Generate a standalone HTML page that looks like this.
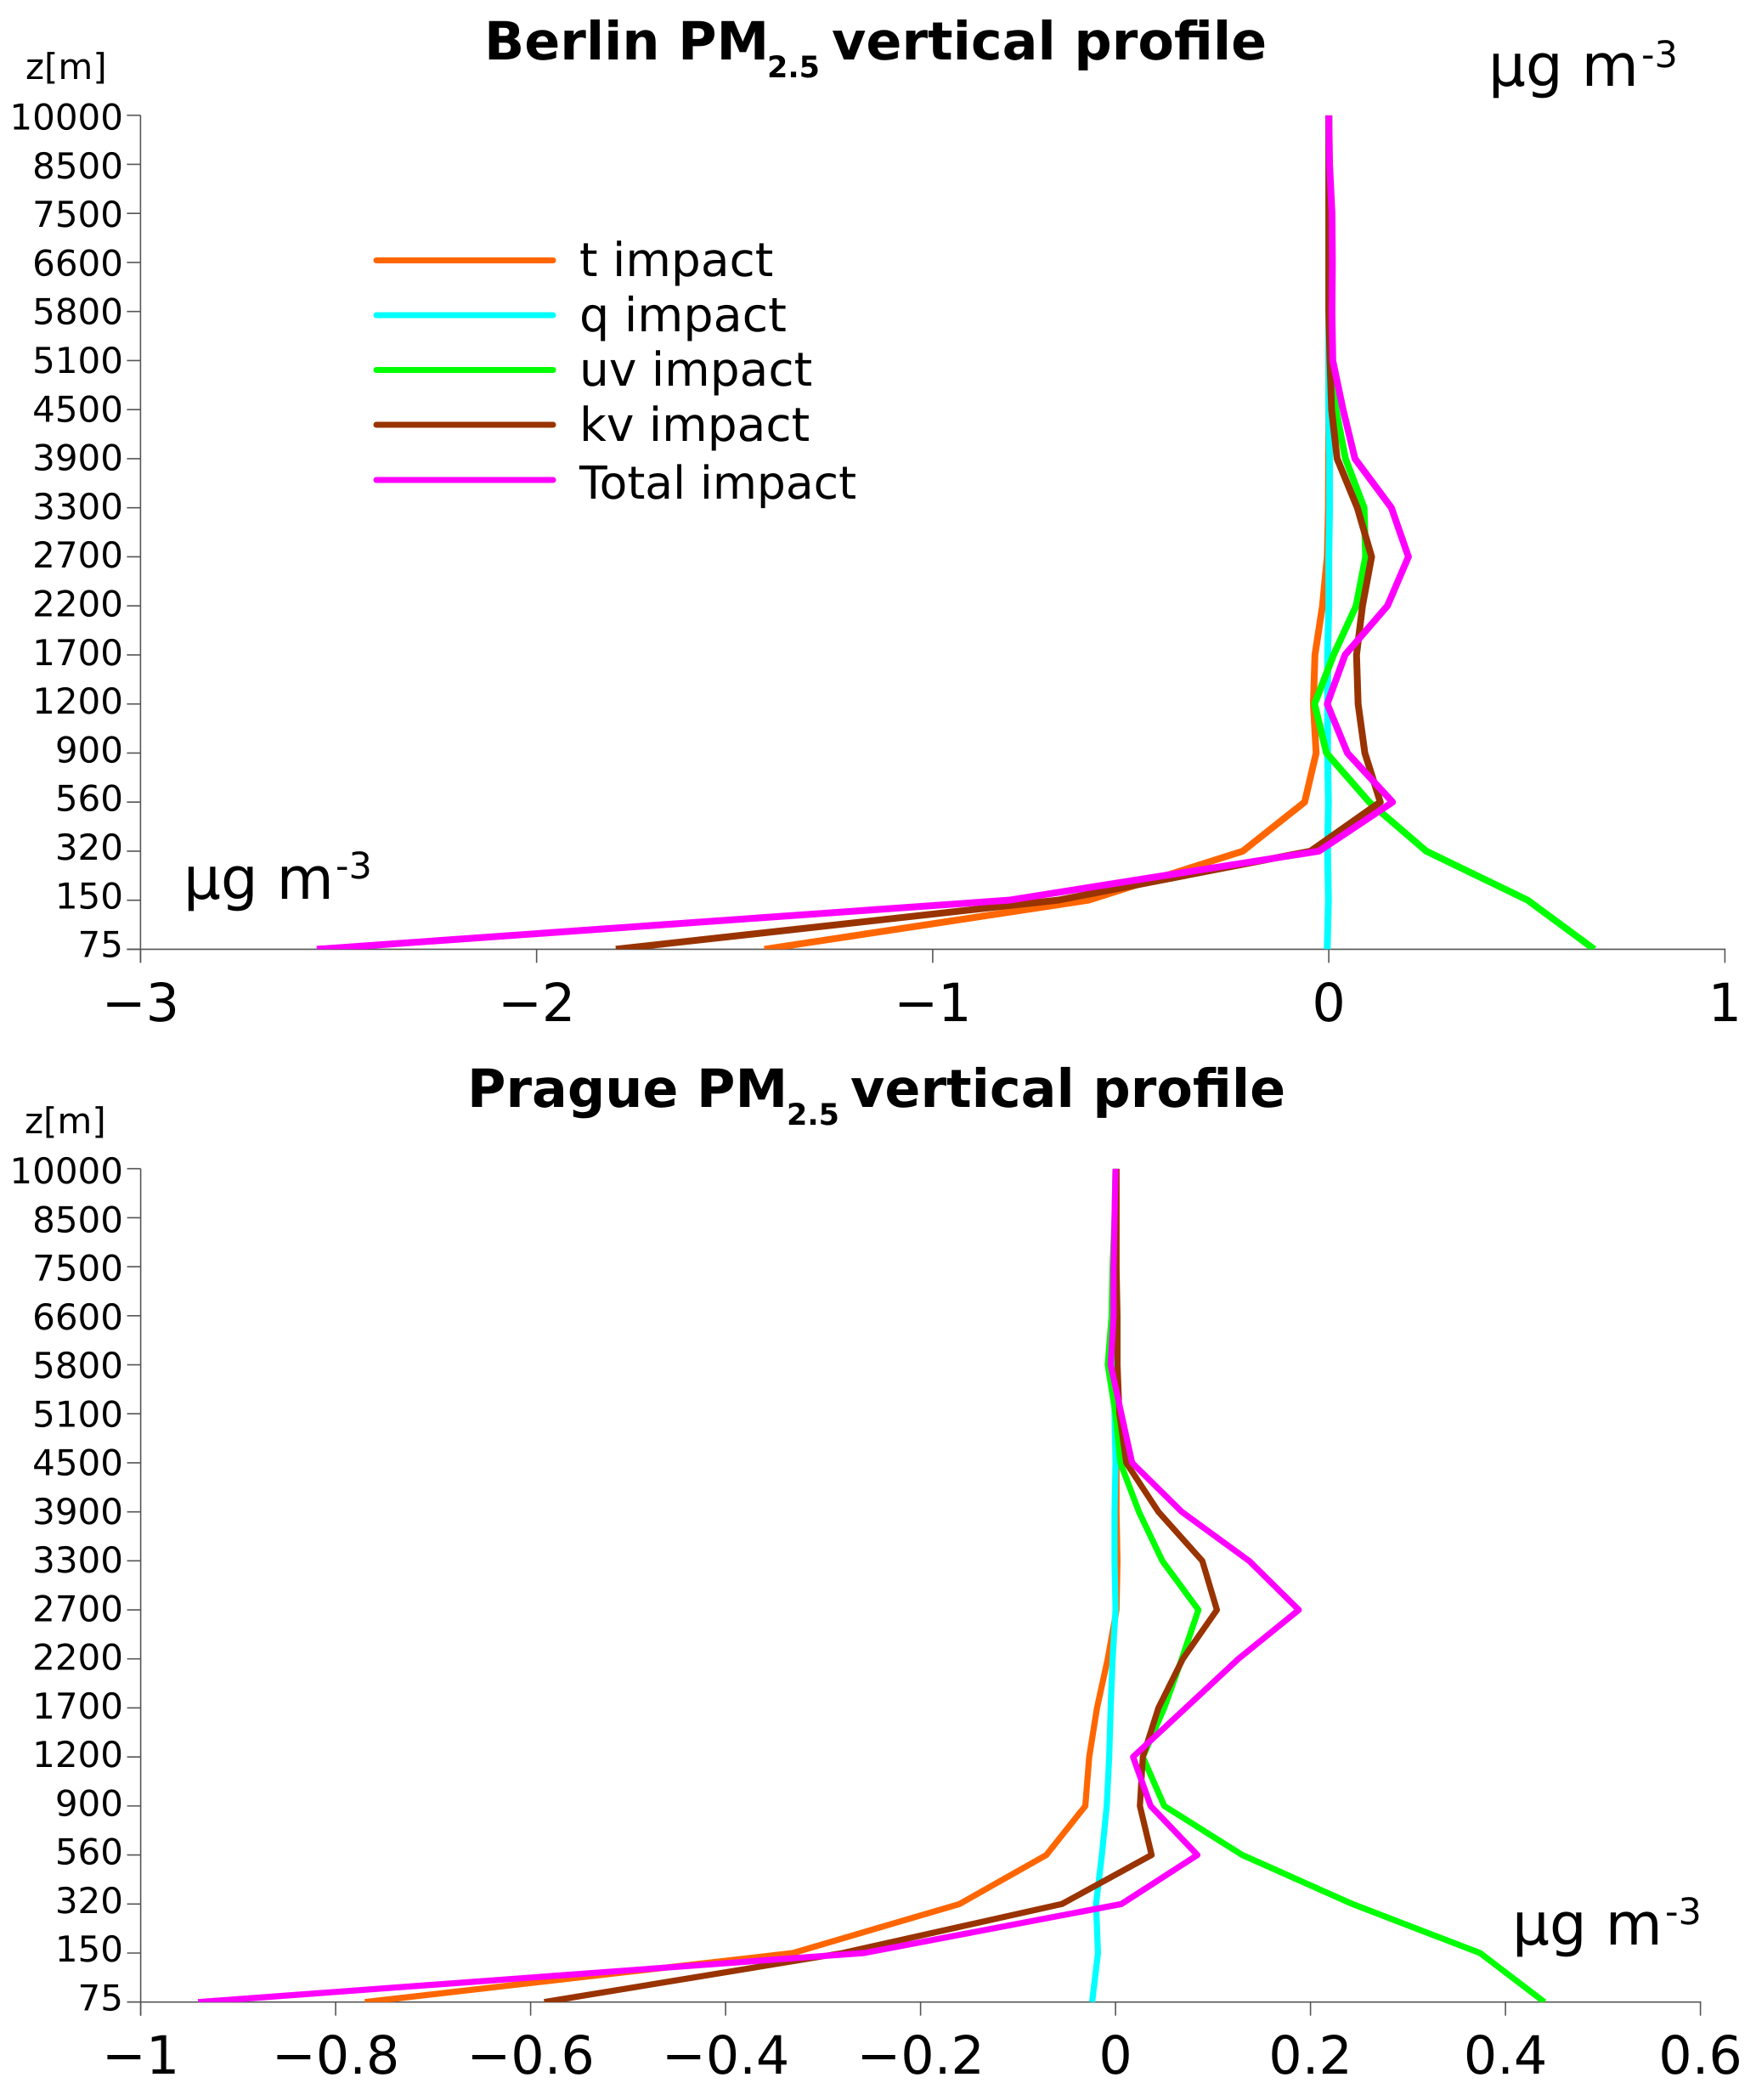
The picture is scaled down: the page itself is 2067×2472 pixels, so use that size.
<!DOCTYPE html>
<html>
<head>
<meta charset="utf-8">
<title>PM2.5 vertical profiles</title>
<style>
html,body{margin:0;padding:0;background:#fff;}
svg{display:block;}
text{font-family:"DejaVu Sans","Liberation Sans",sans-serif;fill:#000;text-rendering:geometricPrecision;}
</style>
</head>
<body>
<svg id="figure" xmlns="http://www.w3.org/2000/svg" width="2067" height="2472" viewBox="0 0 2067 2472">
  <rect x="0" y="0" width="2067" height="2472" fill="#fff"/>

  <text font-weight="bold" font-size="62"><tspan x="570" y="70">Berlin PM</tspan><tspan x="903" y="91" font-size="35">2.5</tspan><tspan x="979" y="70">vertical profile</tspan></text>
  <text font-weight="bold" font-size="62"><tspan x="550" y="1303">Prague PM</tspan><tspan x="926" y="1324" font-size="35">2.5</tspan><tspan x="1001" y="1303">vertical profile</tspan></text>

  <text x="30" y="93" font-size="42">z[m]</text>
  <text x="29" y="1334" font-size="42">z[m]</text>

  <g id="berlin-chart"></g>
  <g id="prague-chart"></g>

  <text font-size="69"><tspan x="1752" y="101">µg m</tspan><tspan x="1932" y="79" font-size="43">-3</tspan></text>
  <text font-size="69"><tspan x="216" y="1058">µg m</tspan><tspan x="395" y="1034" font-size="43">-3</tspan></text>
  <text font-size="69"><tspan x="1780" y="2289">µg m</tspan><tspan x="1960" y="2265" font-size="43">-3</tspan></text>

  <g>
    <g>
      <line x1="443" y1="306.5" x2="651" y2="306.5" stroke="#ff6600" stroke-width="7" stroke-linecap="round"/>
      <text x="682" y="325" font-size="55">t impact</text>
    </g>
    <g>
      <line x1="443" y1="371" x2="651" y2="371" stroke="#00ffff" stroke-width="7" stroke-linecap="round"/>
      <text x="682" y="390" font-size="55.5">q impact</text>
    </g>
    <g>
      <line x1="443" y1="435.5" x2="651" y2="435.5" stroke="#00ff00" stroke-width="7" stroke-linecap="round"/>
      <text x="682" y="454" font-size="55">uv impact</text>
    </g>
    <g>
      <line x1="443" y1="500" x2="651" y2="500" stroke="#993300" stroke-width="7" stroke-linecap="round"/>
      <text x="682" y="519" font-size="55">kv impact</text>
    </g>
    <g>
      <line x1="443" y1="565" x2="651" y2="565" stroke="#ff00ff" stroke-width="7" stroke-linecap="round"/>
      <text x="682" y="587" font-size="53.5">Total impact</text>
    </g>
  </g>
</svg>

<script>
var levels = ["10000","8500","7500","6600","5800","5100","4500","3900","3300","2700","2200","1700","1200","900","560","320","150","75"];

var berlinTicks = [-3,-2,-1,0,1];
var berlinT = [0,0,0,0,0,0,0,-0.0005,-0.001,-0.004,-0.016,-0.035,-0.039,-0.032,-0.061,-0.217,-0.607,-1.425];
var berlinQ = [0,0,0,0,0,0,0,0.002,0.002,0,0,-0.003,-0.003,-0.003,-0.001,-0.003,-0.001,-0.004];
var berlinUv = [0,0,0,0,0.001,0.009,0.018,0.042,0.089,0.093,0.069,0.012,-0.036,-0.006,0.102,0.246,0.502,0.67];
var berlinKv = [0,0,0,0,0,0.003,0.007,0.021,0.072,0.108,0.085,0.070,0.074,0.091,0.130,-0.046,-0.684,-1.80];
var berlinTotal = [0,0.002,0.008,0.009,0.008,0.010,0.036,0.066,0.158,0.201,0.148,0.041,-0.004,0.047,0.161,-0.025,-0.808,-2.555];

var pragueTicks = [-1,-0.8,-0.6,-0.4,-0.2,0,0.2,0.4,0.6];
var pragueT = [0.001,0.001,0.001,0.001,0.001,0.001,0.001,0.001,0.002,0.001,-0.008,-0.019,-0.027,-0.031,-0.071,-0.160,-0.331,-0.77];
var pragueQ = [0,0,0,-0.001,-0.002,-0.001,0,-0.001,-0.001,0,-0.003,-0.005,-0.0065,-0.009,-0.014,-0.02,-0.018,-0.024];
var pragueUv = [0,-0.001,-0.003,-0.004,-0.008,0,0.005,0.024,0.048,0.085,0.068,0.050,0.028,0.050,0.130,0.243,0.374,0.44];
var pragueKv = [0.001,0.001,0.001,0.002,0.002,0.004,0.011,0.044,0.089,0.104,0.069,0.044,0.028,0.025,0.037,-0.055,-0.28,-0.586];
var pragueTotal = [0,-0.001,-0.002,-0.002,-0.005,0.006,0.017,0.068,0.137,0.188,0.126,0.072,0.018,0.036,0.084,0.006,-0.258,-0.941];

var NS = "http://www.w3.org/2000/svg";
var AXIS_COLOR = "#555555";

function mk(tag, parent, attrs) {
  var el = document.createElementNS(NS, tag);
  for (var k in attrs) { el.setAttribute(k, attrs[k]); }
  parent.appendChild(el);
  return el;
}

function fmtTick(v) {
  var s = String(Math.abs(v));
  return (v < 0 ? "\u2212" : "") + s;
}

function drawChart(root, prefix, cfg) {
  var xScale = function (v) {
    return cfg.left + (v - cfg.xMin) / (cfg.xMax - cfg.xMin) * (cfg.right - cfg.left);
  };
  var yScale = function (i) {
    return cfg.top + i / (levels.length - 1) * (cfg.bottom - cfg.top);
  };

  var yAxis = mk("line", root, {x1: cfg.left, y1: cfg.top, x2: cfg.left, y2: cfg.bottom + 16, stroke: AXIS_COLOR, "stroke-width": 1.6});
  
  

  var xAxis = mk("line", root, {x1: cfg.left - 16, y1: cfg.bottom, x2: cfg.right + 0.8, y2: cfg.bottom, stroke: AXIS_COLOR, "stroke-width": 1.6});
  
  

  levels.forEach(function (lab, i) {
    var y = yScale(i);
    var tick = mk("line", root, {x1: cfg.left - 16, y1: y, x2: cfg.left, y2: y, stroke: AXIS_COLOR, "stroke-width": 1.6});
    
    
    var t = mk("text", root, {x: 145, y: cfg.labelTop + i * cfg.labelStep, "font-size": 42, "text-anchor": "end"});
    t.textContent = lab;
    
    
  });

  cfg.ticks.forEach(function (v) {
    var x = xScale(v);
    var tick = mk("line", root, {x1: x, y1: cfg.bottom, x2: x, y2: cfg.bottom + 16, stroke: AXIS_COLOR, "stroke-width": 1.6});
    
    
    var t = mk("text", root, {x: x, y: cfg.bottom + 84.5, "font-size": 62, "text-anchor": "middle"});
    t.textContent = fmtTick(v);
    
    
  });

  var clipId = prefix + "-clip";
  var clip = mk("clipPath", root, {id: clipId});
  mk("rect", clip, {x: 0, y: cfg.top, width: 2067, height: cfg.bottom - cfg.top});

  var lines = mk("g", root, {"clip-path": "url(#" + clipId + ")"});
  
  

  cfg.series.forEach(function (s) {
    var pts = s.values.map(function (v, i) {
      return xScale(v).toFixed(2) + "," + yScale(i).toFixed(2);
    }).join(" ");
    var line = mk("polyline", lines, {points: pts, fill: "none", stroke: s.color, "stroke-width": cfg.lineWidth, "stroke-linejoin": "round", "stroke-linecap": "butt"});
    
    
  });
}

drawChart(document.getElementById("berlin-chart"), "berlin", {
  left: 165.4, right: 2030.4, top: 135.7, bottom: 1117.4,
  labelTop: 152.5, labelStep: 57.3, lineWidth: 8,
  xMin: -3, xMax: 1, ticks: berlinTicks,
  series: [
    {name: "t-impact-line", color: "#ff6600", values: berlinT},
    {name: "q-impact-line", color: "#00ffff", values: berlinQ},
    {name: "uv-impact-line", color: "#00ff00", values: berlinUv},
    {name: "kv-impact-line", color: "#993300", values: berlinKv},
    {name: "total-impact-line", color: "#ff00ff", values: berlinTotal}
  ]
});

drawChart(document.getElementById("prague-chart"), "prague", {
  left: 165.6, right: 2001.6, top: 1375.7, bottom: 2356.7,
  labelTop: 1393, labelStep: 57.26, lineWidth: 7.2,
  xMin: -1, xMax: 0.6, ticks: pragueTicks,
  series: [
    {name: "t-impact-line", color: "#ff6600", values: pragueT},
    {name: "q-impact-line", color: "#00ffff", values: pragueQ},
    {name: "uv-impact-line", color: "#00ff00", values: pragueUv},
    {name: "kv-impact-line", color: "#993300", values: pragueKv},
    {name: "total-impact-line", color: "#ff00ff", values: pragueTotal}
  ]
});
</script>
</body>
</html>
